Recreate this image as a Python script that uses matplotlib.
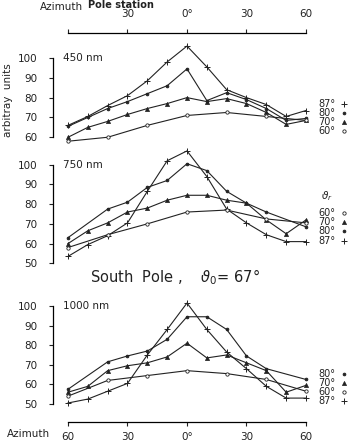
import matplotlib.pyplot as plt
from matplotlib.lines import Line2D

# azimuth positions (negative = left half of the scan)
az_10 = [-60, -50, -40, -30, -20, -10, 0, 10, 20, 30, 40, 50, 60]
az_20 = [-60, -40, -20, 0, 20, 40, 60]
az_no50 = [-60, -40, -30, -20, -10, 0, 10, 20, 30, 40, 60]

# 450 nm
p450_87 = [66, 70.5, 76, 81, 88.5, 98, 106, 95.5, 84, 80, 76.5, 70.5, 73.5]
p450_80 = [65.5, 70, 74.5, 78, 82, 86, 94.5, 78.5, 82.5, 79, 74.5, 68.5, 69.5]
p450_70 = [60, 65, 68, 71.5, 74.5, 77, 80, 78, 79.5, 77, 72.5, 66.5, 68.5]
p450_60 = [58, 60, 66, 71, 72.5, 70.5, 68.5]

# 750 nm
p750_87 = [53.5, 59.5, 64, 70.5, 86.5, 102, 107, 94, 77.5, 70.5, 64.5, 61, 61]
p750_80 = [63, 77.5, 81, 88.5, 92, 100.5, 97, 86.5, 80.5, 76, 68.5]
p750_70 = [60, 66.5, 70.5, 76, 78, 82, 84.5, 84.5, 82, 80.5, 72, 65, 72]
p750_60 = [58, 64.5, 70, 76, 77, 72.5, 70.5]

# 1000 nm
p1000_87 = [50.5, 52.5, 56.5, 60.5, 75, 88, 101.5, 88, 76.5, 68, 59, 53, 53]
p1000_80 = [57.5, 71.5, 74.5, 77, 83, 94.5, 94.5, 88, 74.5, 68, 62.5]
p1000_70 = [56, 59, 67, 69.5, 71, 74, 81, 73.5, 75, 71, 67, 56, 59.5]
p1000_60 = [54, 62, 64.5, 67, 65.5, 62.5, 56.5]

az_ticks = [-60, -30, 0, 30, 60]
az_labels = ['60', '30', '0°', '30', '60']

W, H = 350, 448
fig = plt.figure(figsize=(W / 100, H / 100), dpi=100)
ink = '#222222'

# marker styles per zenith angle
styles = {
    87: dict(marker='+', ms=4, mew=0.7),
    80: dict(marker='o', ms=2.0, mfc=ink, mew=0.6),
    70: dict(marker='^', ms=3.0, mfc=ink, mew=0.5),
    60: dict(marker='o', ms=2.4, mfc='white', mew=0.6),
}


def make_axes(top_px, bot_px, ylim):
    ax = fig.add_axes([53 / W, 1 - bot_px / H, (312 - 53) / W, (bot_px - top_px) / H])
    ax.set_xlim(-67.56, 63.03)
    ax.set_ylim(*ylim)
    for s in ['top', 'right', 'bottom']:
        ax.spines[s].set_visible(False)
    ax.spines['left'].set_linewidth(0.9)
    ax.tick_params(axis='y', direction='out', length=3, width=0.8, pad=8,
                   labelsize=7.5, colors=ink)
    ax.set_xticks([])
    ax.set_facecolor('none')
    return ax


def plot_series(ax, series):
    for key, x, y in series:
        ax.plot(x, y, color=ink, lw=0.8, mec=ink, clip_on=False, **styles[key])


def legend_column(keys, y_px):
    for key, yp in zip(keys, y_px):
        fig.text(318 / W, 1 - yp / H, f'{key}°', fontsize=7, va='center', color=ink)
        fig.add_artist(Line2D([344 / W], [1 - yp / H], transform=fig.transFigure,
                              color=ink, mec=ink, ls='none', **styles[key]))


# panel 1: 450 nm
ax1 = make_axes(33, 145, (56.1, 112.6))
ax1.set_yticks([60, 70, 80, 90, 100])
ax1.spines['left'].set_bounds(60, 100)
ax1.spines['top'].set_visible(True)
ax1.spines['top'].set_bounds(-60, 60)
ax1.spines['top'].set_linewidth(0.9)
ax1.xaxis.tick_top()
ax1.set_xticks(az_ticks)
ax1.set_xticklabels(['', '30', '0°', '30', '60'])
ax1.tick_params(axis='x', direction='out', length=3, width=0.8, pad=7,
                labelsize=7.5, colors=ink)
plot_series(ax1, [(87, az_10, p450_87), (80, az_10, p450_80),
                  (70, az_10, p450_70), (60, az_20, p450_60)])
ax1.text(-62.5, 100, '450 nm', fontsize=7.5, color=ink, va='center')
legend_column([87, 80, 70, 60], [104, 113, 122, 131])

# panel 2: 750 nm
ax2 = make_axes(145, 270, (46.6, 110))
ax2.set_yticks([50, 60, 70, 80, 90, 100])
ax2.spines['left'].set_bounds(50, 100)
plot_series(ax2, [(87, az_10, p750_87), (80, az_no50, p750_80),
                  (70, az_10, p750_70), (60, az_20, p750_60)])
ax2.text(-62.5, 100, '750 nm', fontsize=7.5, color=ink, va='center')
fig.text(321 / W, 1 - 196 / H, r'$\vartheta_r$', fontsize=7.5, va='center', color=ink)
legend_column([60, 70, 80, 87], [213, 222, 231, 241])

# panel 3: 1000 nm
ax3 = make_axes(295, 422, (40.8, 105.6))
ax3.set_yticks([50, 60, 70, 80, 90, 100])
ax3.spines['left'].set_bounds(50, 100)
ax3.spines['bottom'].set_visible(True)
ax3.spines['bottom'].set_bounds(-60, 60)
ax3.spines['bottom'].set_linewidth(0.9)
ax3.set_xticks(az_ticks)
ax3.set_xticklabels(az_labels)
ax3.tick_params(axis='x', direction='out', length=3, width=0.8, pad=4,
                labelsize=7.5, colors=ink)
plot_series(ax3, [(87, az_10, p1000_87), (80, az_no50, p1000_80),
                  (70, az_10, p1000_70), (60, az_20, p1000_60)])
ax3.text(-62.5, 100, '1000 nm', fontsize=7.5, color=ink, va='center')
legend_column([80, 70, 60, 87], [374, 383, 392, 401])

# titles and labels
fig.text(0.5, 1 - 277 / H, r'South  Pole ,    $\vartheta_0$= 67°', fontsize=10.5,
         ha='center', va='center', color=ink)
fig.text(8 / W, 1 - 100 / H, 'arbitray  units', rotation=90, fontsize=7.5,
         ha='center', va='center', color=ink)
fig.text(40 / W, 1 - 7 / H, 'Azimuth', fontsize=7.5, va='center', color=ink)
fig.text(88 / W, 1 - 5 / H, 'Pole station', fontsize=7, fontweight='bold',
         va='center', color=ink)
fig.text(7 / W, 1 - 434 / H, 'Azimuth', fontsize=7.5, va='center', color=ink)

fig.savefig('out.png', dpi=100, facecolor='white')
